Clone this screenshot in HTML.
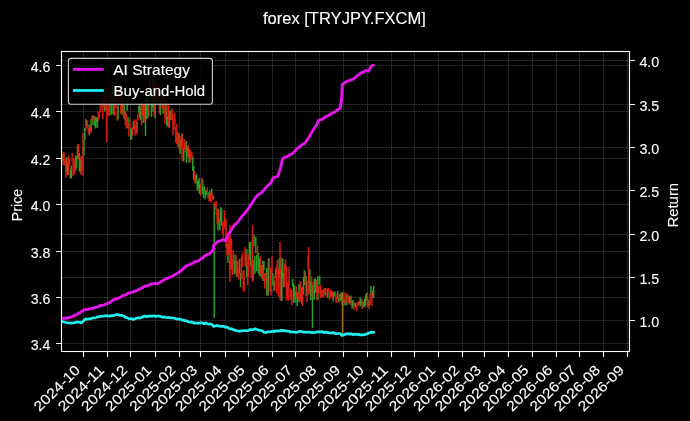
<!DOCTYPE html>
<html><head><meta charset="utf-8"><style>html,body{margin:0;padding:0;background:#000;width:690px;height:421px;overflow:hidden}svg{display:block;will-change:transform}</style></head>
<body><svg width="690" height="421" viewBox="0 0 690 421">
<rect width="690" height="421" fill="#000"/>
<path d="M83.50 51.5V351.5M107.50 51.5V351.5M130.50 51.5V351.5M155.50 51.5V351.5M179.50 51.5V351.5M200.50 51.5V351.5M225.50 51.5V351.5M248.50 51.5V351.5M272.50 51.5V351.5M295.50 51.5V351.5M319.50 51.5V351.5M343.50 51.5V351.5M367.50 51.5V351.5M391.50 51.5V351.5M414.50 51.5V351.5M438.50 51.5V351.5M462.50 51.5V351.5M484.50 51.5V351.5M508.50 51.5V351.5M532.50 51.5V351.5M556.50 51.5V351.5M579.50 51.5V351.5M603.50 51.5V351.5M627.50 51.5V351.5M61.5 343.50H629.5M61.5 297.50H629.5M61.5 251.50H629.5M61.5 204.50H629.5M61.5 158.50H629.5M61.5 111.50H629.5M61.5 65.50H629.5M61.5 320.50H629.5M61.5 277.50H629.5M61.5 234.50H629.5M61.5 190.50H629.5M61.5 147.50H629.5M61.5 104.50H629.5M61.5 60.50H629.5" fill="none" stroke="#ffffff" stroke-opacity="0.2" stroke-width="1" stroke-dasharray="2,1"/>
<g fill="none" stroke-width="1.5">
<path d="M62.30 154.5V162.1M66.80 156.9V172.6M67.70 163.0V175.2M70.40 169.8V178.8M71.30 165.7V178.1M75.80 155.3V170.1M76.70 156.4V167.8M77.60 144.8V158.9M79.40 153.0V171.2M80.30 159.0V172.7M83.00 146.8V154.6M83.90 140.1V155.8M84.80 127.9V139.9M86.60 120.1V126.3M89.30 124.4V135.2M91.10 119.3V132.3M92.90 115.8V125.0M94.70 116.1V126.2M95.60 118.6V128.4M96.50 117.3V122.5M97.40 117.2V127.7M104.60 88.9V111.6M109.10 89.0V99.6M110.00 99.0V115.5M111.80 93.3V114.7M112.70 82.2V97.6M113.60 98.0V114.4M118.10 102.6V119.5M119.90 87.2V99.4M122.60 97.9V114.4M124.40 105.2V119.1M127.10 98.4V110.9M128.00 116.5V128.3M130.70 128.4V139.9M131.60 128.2V139.3M133.40 121.1V129.3M137.00 121.8V133.0M138.80 106.1V112.7M139.70 103.6V117.9M140.60 107.3V120.0M143.30 104.2V123.0M145.10 98.0V118.1M146.00 98.4V117.7M146.90 92.1V119.1M148.70 91.0V117.1M151.40 91.9V116.8M152.30 78.7V107.6M153.20 78.1V111.8M155.00 86.9V118.0M155.90 78.3V100.7M157.70 93.1V104.6M160.40 99.5V115.2M163.10 89.9V113.7M164.00 92.3V103.0M166.70 102.2V126.6M167.60 116.4V125.4M169.40 110.4V127.8M170.30 110.2V120.0M178.40 133.3V146.9M180.20 139.7V153.7M182.00 135.2V143.4M183.80 147.9V161.5M186.50 140.9V162.7M187.40 146.5V156.8M189.20 149.3V162.6M192.80 156.3V171.1M193.70 166.0V179.8M195.50 175.5V183.6M196.40 173.8V180.2M197.30 179.8V190.4M198.20 180.4V187.8M199.10 178.0V193.1M200.00 183.8V194.5M202.70 179.8V194.1M203.60 186.9V198.1M204.50 186.5V190.9M205.40 190.2V199.2M206.30 190.5V194.9M208.10 192.2V197.9M209.90 190.8V201.1M211.70 188.4V194.9M213.50 195.7V199.4M218.00 208.5V230.8M219.80 219.3V230.1M220.70 207.1V221.8M221.60 208.6V225.9M227.90 243.9V262.8M234.20 260.2V274.1M235.10 254.6V273.3M236.90 260.7V277.1M239.60 259.1V273.6M240.50 272.9V287.3M246.80 249.3V277.4M249.50 241.9V260.1M250.40 242.1V266.4M253.10 259.8V279.9M254.00 234.7V246.2M254.90 256.0V273.8M255.80 236.7V253.2M256.70 254.8V271.2M258.50 253.0V273.5M259.40 258.7V276.0M261.20 265.0V277.0M263.00 260.8V280.9M263.90 260.9V270.3M266.60 267.8V295.6M268.40 258.4V295.2M272.90 273.0V285.5M274.70 280.5V290.4M275.60 268.5V278.6M279.20 258.5V278.2M281.00 257.5V300.5M281.90 270.3V301.0M282.80 258.6V277.9M283.70 273.3V287.3M292.70 278.8V286.8M293.60 283.5V302.9M294.50 285.9V297.2M295.40 291.4V302.4M297.20 291.9V306.3M299.00 284.0V302.2M301.70 287.4V303.7M303.50 276.7V294.6M304.40 269.9V285.3M306.20 276.2V295.9M309.80 268.9V293.0M310.70 281.8V300.3M312.50 289.8V300.7M314.30 278.4V299.7M315.20 278.6V293.0M316.10 279.4V291.7M317.90 276.0V299.8M319.70 275.6V284.6M325.10 288.0V295.6M327.80 288.7V298.1M331.40 290.7V296.1M333.20 292.3V301.5M334.10 292.3V296.7M335.00 291.5V294.5M337.70 290.8V298.2M338.60 298.0V302.0M340.40 293.7V301.3M341.30 292.6V300.0M344.90 299.3V305.5M346.70 295.2V305.2M349.40 295.9V304.6M350.30 295.3V302.7M352.10 301.4V308.5M353.00 300.1V306.3M354.80 302.9V306.1M355.70 303.1V307.9M359.30 301.4V304.9M360.20 297.6V306.5M361.10 300.5V304.1M362.90 302.2V308.3M363.80 301.5V305.9M364.70 298.7V307.2M365.60 295.3V305.2M366.50 292.9V300.4M368.30 299.5V306.6M371.00 286.3V295.1M372.80 290.6V298.4M373.70 286.0V297.2M145.50 98.0V136.0M214.30 203.0V318.0M312.50 285.0V328.0" stroke="#2c9c2a"/>
<path d="M63.20 151.8V165.1M64.10 152.2V165.6M65.00 158.5V165.8M65.90 159.1V177.8M68.60 155.8V175.0M69.50 158.5V166.5M72.20 153.3V161.3M73.10 161.3V175.9M74.00 158.3V172.8M74.90 160.3V174.4M78.50 143.7V159.6M81.20 155.9V175.0M82.10 156.1V171.0M85.70 118.4V130.9M87.50 120.7V128.4M88.40 128.6V133.7M90.20 125.9V132.8M92.00 115.5V121.6M93.80 115.6V119.9M98.30 111.3V121.4M99.20 112.5V118.6M100.10 105.2V112.7M101.00 101.2V106.7M101.90 99.5V110.1M102.80 107.4V119.3M103.70 94.7V107.3M105.50 92.9V110.2M106.40 83.9V99.5M107.30 97.8V110.4M108.20 99.6V116.0M110.90 81.4V100.2M114.50 95.5V116.0M115.40 89.7V108.4M116.30 79.1V96.2M117.20 96.9V120.8M119.00 90.0V103.6M120.80 100.6V114.3M121.70 96.2V112.6M123.50 101.9V117.6M125.30 111.4V125.1M126.20 113.6V128.6M128.90 123.1V136.5M129.80 118.4V128.2M132.50 127.2V135.8M134.30 119.4V129.9M135.20 125.6V135.7M136.10 119.0V134.4M137.90 113.6V120.3M141.50 104.8V125.2M142.40 102.3V115.4M144.20 102.6V122.0M147.80 99.8V118.1M149.60 79.5V92.4M150.50 77.4V93.5M154.10 79.8V115.9M156.80 83.0V99.1M158.60 85.8V97.1M159.50 90.9V113.6M161.30 80.3V95.0M162.20 94.9V108.8M164.90 103.6V123.8M165.80 99.8V119.8M168.50 104.3V127.4M171.20 110.8V120.3M172.10 108.5V119.7M173.00 114.5V135.5M173.90 119.5V129.9M174.80 112.8V124.2M175.70 126.5V142.2M176.60 123.9V143.9M177.50 131.3V145.6M179.30 133.6V150.0M181.10 136.1V149.0M182.90 137.8V147.4M184.70 139.2V150.0M185.60 142.8V152.1M188.30 145.5V157.3M190.10 149.4V162.8M191.00 152.7V160.0M191.90 151.5V157.9M194.60 170.9V182.5M200.90 183.7V195.8M201.80 177.5V184.1M207.20 187.5V191.9M209.00 195.0V201.4M210.80 192.5V202.5M212.60 193.5V200.8M214.40 201.8V204.9M215.30 203.4V209.1M216.20 201.2V215.0M217.10 214.2V224.2M218.90 209.7V222.5M222.50 221.6V233.7M223.40 224.5V237.8M224.30 210.2V227.5M225.20 217.5V229.2M226.10 219.5V248.1M227.00 233.1V255.5M228.80 233.5V254.5M229.70 259.0V277.5M230.60 245.7V264.4M231.50 238.6V270.0M232.40 259.6V275.1M233.30 250.6V263.6M236.00 255.1V275.8M237.80 261.1V274.7M238.70 268.7V279.5M241.40 257.1V279.6M242.30 252.6V266.9M243.20 270.6V290.8M244.10 270.4V291.9M245.00 247.2V265.5M245.90 252.5V267.3M247.70 262.2V285.2M248.60 255.0V276.4M251.30 260.0V277.7M252.20 240.3V264.4M257.60 245.7V255.8M260.30 256.2V273.7M262.10 265.4V278.9M264.80 272.9V288.8M265.70 272.7V281.7M267.50 276.5V296.0M269.30 257.9V270.4M270.20 267.6V292.2M271.10 269.2V295.5M272.00 256.2V273.8M273.80 275.7V291.6M276.50 266.0V292.9M277.40 259.9V275.0M278.30 269.1V296.6M280.10 247.1V263.4M284.60 263.5V286.9M285.50 259.4V271.1M286.40 266.3V300.6M287.30 283.0V298.2M288.20 281.4V300.8M289.10 266.8V286.1M290.00 287.8V300.2M290.90 289.4V297.9M291.80 289.9V305.2M296.30 286.6V297.7M298.10 293.0V299.9M299.90 281.0V291.0M300.80 282.0V301.8M302.60 287.0V305.7M305.30 272.2V284.9M307.10 281.0V301.9M308.00 255.5V269.3M308.90 270.4V293.1M311.60 276.5V297.8M313.40 281.9V292.0M317.00 279.9V300.5M318.80 286.1V294.1M320.60 284.7V298.1M321.50 289.6V297.6M322.40 290.4V297.1M323.30 289.7V297.2M324.20 288.4V292.5M326.00 288.0V291.2M326.90 292.0V296.7M328.70 288.0V292.0M329.60 292.0V300.1M330.50 289.4V297.8M332.30 291.2V298.5M335.90 293.4V302.4M336.80 297.1V303.0M339.50 294.1V301.4M342.20 300.0V305.1M343.10 299.9V305.9M344.00 292.4V303.5M345.80 293.3V302.9M347.60 293.5V298.5M348.50 297.1V303.2M351.20 296.2V305.6M353.90 301.9V309.8M356.60 304.8V311.3M357.50 302.0V306.0M358.40 301.2V305.1M362.00 299.1V308.8M367.40 292.5V307.2M369.20 300.6V309.5M370.10 293.6V305.1M371.90 291.5V306.3M106.60 103.0V142.0M252.50 225.0V282.0M230.00 225.0V282.0M280.00 242.0V300.0M308.70 247.0V295.0M182.00 133.0V161.0M83.00 133.0V176.0" stroke="#e81c10" stroke-opacity="0.92"/>
<path d="M342.50 292.0V336.0" stroke="#9a6a12"/>
</g>
<polyline points="62.30,318.80 64.12,318.24 65.95,318.24 67.77,317.77 69.60,317.60 71.40,316.98 73.20,316.28 75.00,314.99 76.80,314.70 78.62,313.01 80.45,312.64 82.27,310.86 84.10,309.90 85.90,309.28 87.70,309.70 89.50,308.82 91.30,308.50 93.12,308.31 94.95,307.43 96.77,307.06 98.60,306.40 100.34,305.49 102.08,305.41 103.82,305.09 105.56,304.18 107.30,303.60 109.23,302.71 111.17,301.50 113.10,300.20 114.90,299.04 116.70,299.01 118.50,298.12 120.30,297.30 122.04,296.24 123.78,295.11 125.52,295.09 127.26,293.83 129.00,293.00 130.74,292.62 132.48,292.18 134.22,291.41 135.96,291.02 137.70,290.00 139.52,288.94 141.35,288.40 143.18,287.09 145.00,286.20 146.67,286.07 148.33,285.45 150.00,284.50 151.74,283.82 153.48,283.58 155.22,283.38 156.96,283.85 158.70,283.10 160.63,281.84 162.57,280.83 164.50,279.50 166.30,278.58 168.10,278.06 169.90,277.21 171.70,276.60 173.52,275.35 175.35,274.49 177.18,273.38 179.00,272.20 180.80,270.98 182.60,269.13 184.40,267.75 186.20,265.70 188.02,265.33 189.85,264.74 191.68,263.70 193.50,262.80 195.30,261.56 197.10,261.36 198.90,260.56 200.70,259.20 202.85,257.80 205.00,255.60 206.97,254.70 208.93,253.88 210.90,252.70 213.80,249.00 213.60,245.40 216.70,242.50 218.63,241.24 220.57,240.90 222.50,239.60 225.40,240.50 226.50,238.30 228.53,234.84 230.57,231.02 232.60,227.70 234.50,224.99 236.40,223.50 238.30,221.36 240.20,218.60 242.10,215.89 244.00,214.30 245.90,211.61 247.80,209.40 250.10,205.65 252.40,202.60 254.65,198.99 256.90,195.80 258.93,194.54 260.97,193.11 263.00,191.20 266.00,187.40 268.30,185.04 270.60,183.60 273.30,177.60 275.40,177.21 277.50,176.60 280.00,169.90 282.50,159.10 284.55,157.39 286.60,156.60 288.27,155.99 289.93,154.76 291.60,154.10 293.27,152.81 294.93,151.25 296.60,149.10 298.27,147.71 299.93,146.80 301.60,144.90 303.30,143.91 305.00,143.30 306.65,140.38 308.30,138.30 309.97,135.63 311.63,132.30 313.30,130.00 314.95,127.20 316.60,125.00 318.30,120.80 319.93,119.97 321.57,119.44 323.20,118.60 325.04,117.14 326.88,115.90 328.72,115.61 330.56,113.93 332.40,113.00 334.32,112.28 336.25,111.05 338.18,109.35 340.10,108.30 341.60,99.80 342.40,84.40 344.70,82.81 347.00,81.30 349.07,80.55 351.13,79.91 353.20,79.00 355.15,77.55 357.10,75.96 359.05,74.47 361.00,72.80 362.80,72.47 364.60,71.27 366.40,70.50 368.70,71.20 371.00,66.60 373.30,65.30" fill="none" stroke="#e614ec" stroke-width="2.9" stroke-linejoin="round" stroke-linecap="round"/>
<polyline points="62.30,321.50 64.12,322.00 65.95,322.49 67.77,322.92 69.60,323.00 71.40,323.19 73.20,322.74 75.00,322.67 76.80,322.00 79.00,322.03 81.20,323.00 83.35,320.97 85.50,319.00 87.24,319.24 88.98,318.75 90.72,318.80 92.46,317.81 94.20,318.00 96.03,317.52 97.85,316.85 99.67,316.69 101.50,316.20 103.30,316.27 105.10,315.71 106.90,315.92 108.70,316.20 110.53,315.60 112.35,315.87 114.17,315.34 116.00,314.70 117.93,314.59 119.87,315.46 121.80,315.40 123.60,315.94 125.40,317.32 127.20,317.73 129.00,319.00 130.93,318.50 132.87,319.37 134.80,319.00 136.50,318.24 138.20,317.78 139.90,318.08 141.60,317.51 143.30,316.46 145.00,316.20 146.67,316.59 148.33,316.11 150.00,316.00 151.92,316.18 153.84,315.70 155.76,316.44 157.68,316.19 159.60,316.00 161.20,316.84 162.80,317.14 164.40,316.92 166.00,317.50 167.81,317.59 169.63,317.62 171.44,317.83 173.26,317.98 175.07,318.44 176.89,318.97 178.70,319.10 180.30,319.00 181.90,320.08 183.50,320.14 185.10,320.70 187.02,320.99 188.94,321.98 190.86,322.12 192.78,322.44 194.70,323.10 196.67,323.08 198.65,323.30 200.62,322.66 202.60,323.10 204.20,323.74 205.80,322.94 207.40,323.83 209.00,324.08 210.60,323.90 212.20,324.72 213.80,326.50 217.00,325.50 218.60,326.11 220.20,326.01 221.80,326.54 223.40,326.29 225.00,327.10 226.60,327.13 228.20,327.74 229.80,329.00 231.40,328.72 233.00,329.50 234.97,330.16 236.95,330.73 238.93,331.14 240.90,331.10 242.50,330.78 244.10,330.63 245.70,330.64 247.30,330.74 248.90,330.30 250.50,329.51 252.10,329.75 253.70,329.40 255.30,328.70 257.65,329.86 260.00,330.30 261.97,330.60 263.93,332.28 265.90,332.60 267.70,331.84 269.50,331.74 271.30,331.66 273.10,331.20 274.92,331.46 276.74,330.72 278.56,331.14 280.38,330.61 282.20,330.40 284.00,330.57 285.80,330.94 287.60,331.16 289.40,331.42 291.20,332.20 293.02,331.77 294.83,332.22 296.65,332.45 298.47,331.53 300.28,331.33 302.10,331.70 303.92,332.34 305.73,332.03 307.55,332.06 309.37,332.04 311.18,332.54 313.00,332.60 315.25,332.48 317.50,331.70 319.17,331.81 320.83,331.92 322.50,331.71 324.17,332.72 325.83,331.98 327.50,332.60 329.30,332.72 331.10,333.20 332.90,332.62 334.70,333.35 336.50,333.69 338.30,333.50 340.10,333.50 342.00,335.50 343.80,335.04 345.60,334.00 347.40,333.67 349.20,334.07 351.00,333.85 352.80,334.61 354.60,334.13 356.40,334.40 358.22,334.35 360.04,334.90 361.86,334.75 363.68,334.88 365.50,334.40 367.33,333.62 369.17,332.92 371.00,332.20 373.70,332.40" fill="none" stroke="#1ef0f0" stroke-width="2.7" stroke-linejoin="round" stroke-linecap="round"/>
<rect x="61.5" y="51.5" width="568.0" height="300.0" fill="none" stroke="#fff" stroke-width="1.1"/>
<path d="M56.10 343.50H61.5M56.10 297.50H61.5M56.10 251.50H61.5M56.10 204.50H61.5M56.10 158.50H61.5M56.10 111.50H61.5M56.10 65.50H61.5M629.5 320.50H634.90M629.5 277.50H634.90M629.5 234.50H634.90M629.5 190.50H634.90M629.5 147.50H634.90M629.5 104.50H634.90M629.5 60.50H634.90M83.50 351.5V356.90M107.50 351.5V356.90M130.50 351.5V356.90M155.50 351.5V356.90M179.50 351.5V356.90M200.50 351.5V356.90M225.50 351.5V356.90M248.50 351.5V356.90M272.50 351.5V356.90M295.50 351.5V356.90M319.50 351.5V356.90M343.50 351.5V356.90M367.50 351.5V356.90M391.50 351.5V356.90M414.50 351.5V356.90M438.50 351.5V356.90M462.50 351.5V356.90M484.50 351.5V356.90M508.50 351.5V356.90M532.50 351.5V356.90M556.50 351.5V356.90M579.50 351.5V356.90M603.50 351.5V356.90M627.50 351.5V356.90" stroke="#fff" stroke-width="1.1" fill="none"/>
<text x="50.3" y="349.80" font-family="Liberation Sans, sans-serif" stroke="#fff" stroke-width="0.1" font-size="14.2" fill="#fff" text-anchor="end" textLength="19.6" lengthAdjust="spacingAndGlyphs">3.4</text>
<text x="50.3" y="303.80" font-family="Liberation Sans, sans-serif" stroke="#fff" stroke-width="0.1" font-size="14.2" fill="#fff" text-anchor="end" textLength="19.6" lengthAdjust="spacingAndGlyphs">3.6</text>
<text x="50.3" y="257.80" font-family="Liberation Sans, sans-serif" stroke="#fff" stroke-width="0.1" font-size="14.2" fill="#fff" text-anchor="end" textLength="19.6" lengthAdjust="spacingAndGlyphs">3.8</text>
<text x="50.3" y="210.80" font-family="Liberation Sans, sans-serif" stroke="#fff" stroke-width="0.1" font-size="14.2" fill="#fff" text-anchor="end" textLength="19.6" lengthAdjust="spacingAndGlyphs">4.0</text>
<text x="50.3" y="164.80" font-family="Liberation Sans, sans-serif" stroke="#fff" stroke-width="0.1" font-size="14.2" fill="#fff" text-anchor="end" textLength="19.6" lengthAdjust="spacingAndGlyphs">4.2</text>
<text x="50.3" y="117.80" font-family="Liberation Sans, sans-serif" stroke="#fff" stroke-width="0.1" font-size="14.2" fill="#fff" text-anchor="end" textLength="19.6" lengthAdjust="spacingAndGlyphs">4.4</text>
<text x="50.3" y="71.80" font-family="Liberation Sans, sans-serif" stroke="#fff" stroke-width="0.1" font-size="14.2" fill="#fff" text-anchor="end" textLength="19.6" lengthAdjust="spacingAndGlyphs">4.6</text>
<text x="639.4" y="326.80" font-family="Liberation Sans, sans-serif" stroke="#fff" stroke-width="0.1" font-size="14.2" fill="#fff" textLength="19.9" lengthAdjust="spacingAndGlyphs">1.0</text>
<text x="639.4" y="283.80" font-family="Liberation Sans, sans-serif" stroke="#fff" stroke-width="0.1" font-size="14.2" fill="#fff" textLength="19.9" lengthAdjust="spacingAndGlyphs">1.5</text>
<text x="639.4" y="240.80" font-family="Liberation Sans, sans-serif" stroke="#fff" stroke-width="0.1" font-size="14.2" fill="#fff" textLength="19.9" lengthAdjust="spacingAndGlyphs">2.0</text>
<text x="639.4" y="196.80" font-family="Liberation Sans, sans-serif" stroke="#fff" stroke-width="0.1" font-size="14.2" fill="#fff" textLength="19.9" lengthAdjust="spacingAndGlyphs">2.5</text>
<text x="639.4" y="153.80" font-family="Liberation Sans, sans-serif" stroke="#fff" stroke-width="0.1" font-size="14.2" fill="#fff" textLength="19.9" lengthAdjust="spacingAndGlyphs">3.0</text>
<text x="639.4" y="110.80" font-family="Liberation Sans, sans-serif" stroke="#fff" stroke-width="0.1" font-size="14.2" fill="#fff" textLength="19.9" lengthAdjust="spacingAndGlyphs">3.5</text>
<text x="639.4" y="66.80" font-family="Liberation Sans, sans-serif" stroke="#fff" stroke-width="0.1" font-size="14.2" fill="#fff" textLength="19.9" lengthAdjust="spacingAndGlyphs">4.0</text>
<text transform="translate(80.96,371.00) rotate(-45)" font-family="Liberation Sans, sans-serif" stroke="#fff" stroke-width="0.1" font-size="14.2" fill="#fff" text-anchor="end" textLength="58.5" lengthAdjust="spacingAndGlyphs">2024-10</text>
<text transform="translate(105.06,371.00) rotate(-45)" font-family="Liberation Sans, sans-serif" stroke="#fff" stroke-width="0.1" font-size="14.2" fill="#fff" text-anchor="end" textLength="58.5" lengthAdjust="spacingAndGlyphs">2024-11</text>
<text transform="translate(128.38,371.00) rotate(-45)" font-family="Liberation Sans, sans-serif" stroke="#fff" stroke-width="0.1" font-size="14.2" fill="#fff" text-anchor="end" textLength="58.5" lengthAdjust="spacingAndGlyphs">2024-12</text>
<text transform="translate(152.48,371.00) rotate(-45)" font-family="Liberation Sans, sans-serif" stroke="#fff" stroke-width="0.1" font-size="14.2" fill="#fff" text-anchor="end" textLength="58.5" lengthAdjust="spacingAndGlyphs">2025-01</text>
<text transform="translate(176.58,371.00) rotate(-45)" font-family="Liberation Sans, sans-serif" stroke="#fff" stroke-width="0.1" font-size="14.2" fill="#fff" text-anchor="end" textLength="58.5" lengthAdjust="spacingAndGlyphs">2025-02</text>
<text transform="translate(198.34,371.00) rotate(-45)" font-family="Liberation Sans, sans-serif" stroke="#fff" stroke-width="0.1" font-size="14.2" fill="#fff" text-anchor="end" textLength="58.5" lengthAdjust="spacingAndGlyphs">2025-03</text>
<text transform="translate(222.44,371.00) rotate(-45)" font-family="Liberation Sans, sans-serif" stroke="#fff" stroke-width="0.1" font-size="14.2" fill="#fff" text-anchor="end" textLength="58.5" lengthAdjust="spacingAndGlyphs">2025-04</text>
<text transform="translate(245.76,371.00) rotate(-45)" font-family="Liberation Sans, sans-serif" stroke="#fff" stroke-width="0.1" font-size="14.2" fill="#fff" text-anchor="end" textLength="58.5" lengthAdjust="spacingAndGlyphs">2025-05</text>
<text transform="translate(269.86,371.00) rotate(-45)" font-family="Liberation Sans, sans-serif" stroke="#fff" stroke-width="0.1" font-size="14.2" fill="#fff" text-anchor="end" textLength="58.5" lengthAdjust="spacingAndGlyphs">2025-06</text>
<text transform="translate(293.18,371.00) rotate(-45)" font-family="Liberation Sans, sans-serif" stroke="#fff" stroke-width="0.1" font-size="14.2" fill="#fff" text-anchor="end" textLength="58.5" lengthAdjust="spacingAndGlyphs">2025-07</text>
<text transform="translate(317.28,371.00) rotate(-45)" font-family="Liberation Sans, sans-serif" stroke="#fff" stroke-width="0.1" font-size="14.2" fill="#fff" text-anchor="end" textLength="58.5" lengthAdjust="spacingAndGlyphs">2025-08</text>
<text transform="translate(341.38,371.00) rotate(-45)" font-family="Liberation Sans, sans-serif" stroke="#fff" stroke-width="0.1" font-size="14.2" fill="#fff" text-anchor="end" textLength="58.5" lengthAdjust="spacingAndGlyphs">2025-09</text>
<text transform="translate(364.70,371.00) rotate(-45)" font-family="Liberation Sans, sans-serif" stroke="#fff" stroke-width="0.1" font-size="14.2" fill="#fff" text-anchor="end" textLength="58.5" lengthAdjust="spacingAndGlyphs">2025-10</text>
<text transform="translate(388.80,371.00) rotate(-45)" font-family="Liberation Sans, sans-serif" stroke="#fff" stroke-width="0.1" font-size="14.2" fill="#fff" text-anchor="end" textLength="58.5" lengthAdjust="spacingAndGlyphs">2025-11</text>
<text transform="translate(412.12,371.00) rotate(-45)" font-family="Liberation Sans, sans-serif" stroke="#fff" stroke-width="0.1" font-size="14.2" fill="#fff" text-anchor="end" textLength="58.5" lengthAdjust="spacingAndGlyphs">2025-12</text>
<text transform="translate(436.22,371.00) rotate(-45)" font-family="Liberation Sans, sans-serif" stroke="#fff" stroke-width="0.1" font-size="14.2" fill="#fff" text-anchor="end" textLength="58.5" lengthAdjust="spacingAndGlyphs">2026-01</text>
<text transform="translate(460.32,371.00) rotate(-45)" font-family="Liberation Sans, sans-serif" stroke="#fff" stroke-width="0.1" font-size="14.2" fill="#fff" text-anchor="end" textLength="58.5" lengthAdjust="spacingAndGlyphs">2026-02</text>
<text transform="translate(482.09,371.00) rotate(-45)" font-family="Liberation Sans, sans-serif" stroke="#fff" stroke-width="0.1" font-size="14.2" fill="#fff" text-anchor="end" textLength="58.5" lengthAdjust="spacingAndGlyphs">2026-03</text>
<text transform="translate(506.19,371.00) rotate(-45)" font-family="Liberation Sans, sans-serif" stroke="#fff" stroke-width="0.1" font-size="14.2" fill="#fff" text-anchor="end" textLength="58.5" lengthAdjust="spacingAndGlyphs">2026-04</text>
<text transform="translate(529.51,371.00) rotate(-45)" font-family="Liberation Sans, sans-serif" stroke="#fff" stroke-width="0.1" font-size="14.2" fill="#fff" text-anchor="end" textLength="58.5" lengthAdjust="spacingAndGlyphs">2026-05</text>
<text transform="translate(553.61,371.00) rotate(-45)" font-family="Liberation Sans, sans-serif" stroke="#fff" stroke-width="0.1" font-size="14.2" fill="#fff" text-anchor="end" textLength="58.5" lengthAdjust="spacingAndGlyphs">2026-06</text>
<text transform="translate(576.93,371.00) rotate(-45)" font-family="Liberation Sans, sans-serif" stroke="#fff" stroke-width="0.1" font-size="14.2" fill="#fff" text-anchor="end" textLength="58.5" lengthAdjust="spacingAndGlyphs">2026-07</text>
<text transform="translate(601.03,371.00) rotate(-45)" font-family="Liberation Sans, sans-serif" stroke="#fff" stroke-width="0.1" font-size="14.2" fill="#fff" text-anchor="end" textLength="58.5" lengthAdjust="spacingAndGlyphs">2026-08</text>
<text transform="translate(625.13,371.00) rotate(-45)" font-family="Liberation Sans, sans-serif" stroke="#fff" stroke-width="0.1" font-size="14.2" fill="#fff" text-anchor="end" textLength="58.5" lengthAdjust="spacingAndGlyphs">2026-09</text>
<text transform="translate(22.2,205) rotate(-90)" font-family="Liberation Sans, sans-serif" stroke="#fff" stroke-width="0.1" font-size="14.2" fill="#fff" text-anchor="middle" textLength="32.4" lengthAdjust="spacingAndGlyphs">Price</text>
<text transform="translate(677.6,205.2) rotate(-90)" font-family="Liberation Sans, sans-serif" stroke="#fff" stroke-width="0.1" font-size="14.2" fill="#fff" text-anchor="middle" textLength="44.6" lengthAdjust="spacingAndGlyphs">Return</text>
<text x="344.4" y="24" font-family="Liberation Sans, sans-serif" stroke="#fff" stroke-width="0.1" font-size="17" fill="#fff" text-anchor="middle" textLength="163" lengthAdjust="spacingAndGlyphs">forex [TRYJPY.FXCM]</text>
<rect x="68.4" y="58.4" width="144" height="45.8" rx="2.5" fill="#000" fill-opacity="0.87" stroke="#d0d0d0" stroke-width="1.1"/>
<path d="M73 69.35H103.8" stroke="#e614ec" stroke-width="2.8"/>
<path d="M73 90.45H103.8" stroke="#1ef0f0" stroke-width="2.8"/>
<text x="113.2" y="75.1" font-family="Liberation Sans, sans-serif" stroke="#fff" stroke-width="0.1" font-size="14.2" fill="#fff" textLength="76.8" lengthAdjust="spacingAndGlyphs">AI Strategy</text>
<text x="113.6" y="96" font-family="Liberation Sans, sans-serif" stroke="#fff" stroke-width="0.1" font-size="14.2" fill="#fff" textLength="91.6" lengthAdjust="spacingAndGlyphs">Buy-and-Hold</text>
</svg></body></html>
